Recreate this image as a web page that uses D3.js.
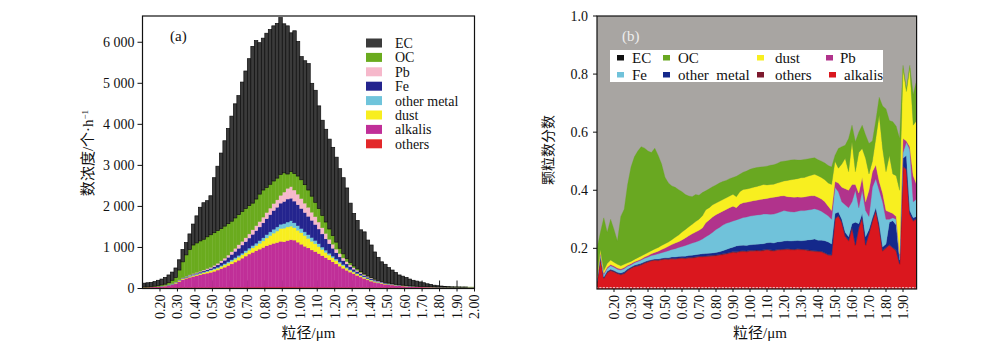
<!DOCTYPE html>
<html><head><meta charset="utf-8">
<script src="https://cdn.jsdelivr.net/npm/d3@7"></script>
<style>body{margin:0;background:#fff}svg{display:block}</style>
</head><body>
<svg id="c" width="993" height="355"></svg>
<script>
// ---------------- DATA ----------------
// Panel (a): bin centres (µm) and particle counts per hour
const sizeA = [0.11,0.13,0.15,0.17,0.19,0.21,0.23,0.25,0.27,0.29,
 0.31,0.33,0.35,0.37,0.39,0.41,0.43,0.45,0.47,0.49,
 0.51,0.53,0.55,0.57,0.59,0.61,0.63,0.65,0.67,0.69,
 0.71,0.73,0.75,0.77,0.79,0.81,0.83,0.85,0.87,0.89,
 0.91,0.93,0.95,0.97,0.99,1.01,1.03,1.05,1.07,1.09,
 1.11,1.13,1.15,1.17,1.19,1.21,1.23,1.25,1.27,1.29,
 1.31,1.33,1.35,1.37,1.39,1.41,1.43,1.45,1.47,1.49,
 1.51,1.53,1.55,1.57,1.59,1.61,1.63,1.65,1.67,1.69,
 1.71,1.73,1.75,1.77,1.79,1.81,1.83,1.85,1.87,1.89,1.91,1.93,1.95,1.97,1.99];
const othersA = [20,20,22,22,24,24,25,25,26,26,
 27,27,28,28,28,29,29,29,30,30,
 30,30,31,31,31,32,32,32,32,33,
 33,33,34,34,34,35,35,35,35,35,
 35,35,35,35,34,34,34,33,33,33,
 32,32,32,31,31,31,30,30,30,30,
 29,29,28,28,28,27,27,27,26,26,
 26,25,25,25,25,24,24,24,24,24,
 24,23,23,23,23,22,22,22,22,22,22,22,22,22,22];
const alkalisA = [10,12,14,18,22,28,35,47,69,99,
 143,188,222,247,267,286,306,326,345,365,
 390,420,454,489,529,568,613,658,708,757,
 807,847,886,926,966,1005,1035,1065,1085,1115,
 1105,1135,1155,1145,1096,1046,996,957,907,867,
 818,768,718,669,619,569,515,465,415,370,
 331,291,252,217,182,153,128,108,92,79,
 69,60,50,41,35,31,26,22,19,16,
 14,13,11,10,9,9,8,8,7,7,6,6,6,6,6];
const dustA = [0,0,0,2,3,4,5,6,8,10,
 15,17,18,20,23,25,27,30,35,40,
 45,45,50,55,60,65,70,75,80,85,
 95,110,125,140,160,190,220,250,280,310,
 330,330,330,300,290,280,260,230,210,190,
 170,150,130,115,100,85,70,60,50,45,
 40,35,30,27,25,22,19,17,15,13,
 10,9,8,7,6,5,5,4,4,4,
 4,3,3,3,2,2,2,2,2,2,2,2,2,2,2];
const otherMetalA = [0,0,0,0,0,2,3,4,5,6,
 7,8,9,10,12,13,15,17,18,20,
 23,25,27,30,32,35,37,40,42,45,
 50,55,60,65,75,80,90,95,100,105,
 110,120,130,120,110,100,90,90,90,80,
 70,60,55,45,40,35,33,28,25,20,
 18,17,16,14,13,11,10,9,8,7,
 5,4,4,3,3,3,2,2,2,2,
 1,1,1,1,1,1,1,1,1,1,1,1,1,1,1];
const feA = [0,0,0,0,2,3,5,6,8,10,
 11,12,13,15,18,20,23,26,30,35,
 42,55,68,85,108,130,153,175,198,220,
 245,275,305,335,365,390,420,455,480,515,
 540,560,550,530,510,490,470,450,420,390,
 360,320,275,230,190,150,122,97,80,65,
 52,43,37,32,28,25,21,17,15,13,
 10,9,8,7,6,5,5,4,3,2,
 2,2,2,1,1,1,1,1,1,1,1,1,1,1,1];
const pbA = [0,0,0,0,0,2,3,4,5,6,
 7,8,10,12,14,17,20,22,26,28,
 35,40,45,50,55,65,75,85,90,95,
 100,110,120,130,140,150,160,170,180,190,
 230,260,280,270,260,240,230,220,200,190,
 170,150,130,110,100,90,80,65,55,45,
 35,30,27,22,19,17,15,12,10,8,
 6,5,4,4,3,2,2,2,2,2,
 2,2,2,2,2,2,2,1,1,1,1,1,1,1,1];
const ocA = [10,10,12,15,20,25,30,50,79,113,
 240,390,520,618,698,720,740,750,776,792,
 795,795,785,780,765,745,740,735,730,715,
 690,650,650,670,660,610,580,550,530,510,
 470,350,370,400,440,460,450,420,390,350,
 330,300,280,250,210,170,130,100,75,60,
 45,35,20,15,10,10,8,6,4,4,
 6,4,4,4,4,4,3,3,2,2,
 2,2,2,2,2,2,2,2,2,2,2,2,2,2,2];
const ecA = [90,98,102,113,129,142,164,188,200,230,
 250,300,300,380,510,660,820,890,880,950,
 1340,1570,1840,2080,2320,2560,2780,2900,3150,3350,
 3580,3820,3860,3690,3700,3760,3770,3780,3770,3820,
 3630,3610,3380,3480,3280,3000,3020,3080,2750,2730,
 2500,2320,2260,2190,2150,2070,1940,1855,1720,1445,
 1280,1180,1020,1025,875,795,662,564,480,440,
 378,334,287,239,218,196,163,139,124,108,
 91,69,56,38,28,21,12,8,4,2,3,1,1,0,0];
const yTicksA = [0,1000,2000,3000,4000,5000,6000];
const yLabelsA = ["0","1 000","2 000","3 000","4 000","5 000","6 000"];
const xTicksA = [0.20,0.30,0.40,0.50,0.60,0.70,0.80,0.90,1.00,1.10,1.20,1.30,1.40,1.50,1.60,1.70,1.80,1.90,2.00];
const legendA = ["EC","OC","Pb","Fe","other metal","dust","alkalis","others"];

// Panel (b): particle number fractions
const sizeB = [0.10,0.12,0.14,0.16,0.18,0.20,0.22,0.24,0.26,0.28,
 0.30,0.32,0.34,0.36,0.38,0.40,0.42,0.44,0.46,0.48,
 0.50,0.52,0.54,0.56,0.58,0.60,0.62,0.64,0.66,0.68,
 0.70,0.72,0.74,0.76,0.78,0.80,0.82,0.84,0.86,0.88,
 0.90,0.92,0.94,0.96,0.98,1.00,1.02,1.04,1.06,1.08,
 1.10,1.12,1.14,1.16,1.18,1.20,1.22,1.24,1.26,1.28,
 1.30,1.32,1.34,1.36,1.38,1.40,1.42,1.44,1.46,1.48,
 1.50,1.52,1.54,1.56,1.58,1.60,1.62,1.64,1.66,1.68,
 1.70,1.72,1.74,1.76,1.78,1.80,1.82,1.84,1.86,1.88,
 1.90,1.92,1.94,1.96,1.98];
const alkalisB = [.080,.165,.095,.115,.122,.118,.112,.108,.112,.122,
 .130,.136,.138,.142,.148,.152,.156,.158,.157,.160,
 .162,.161,.163,.162,.164,.165,.164,.166,.166,.168,
 .170,.170,.171,.172,.173,.174,.176,.178,.180,.183,
 .186,.185,.188,.189,.188,.190,.190,.191,.190,.192,
 .194,.192,.190,.193,.194,.195,.196,.195,.194,.196,
 .195,.194,.192,.190,.189,.188,.187,.182,.176,.175,
 .300,.310,.288,.240,.225,.270,.210,.270,.305,.210,
 .250,.293,.328,.270,.190,.200,.210,.200,.190,.145,
 .480,.470,.316,.293,.300];
const othersB = [.003,.003,.003,.003,.003,.003,.003,.003,.003,.003,
 .003,.003,.003,.003,.003,.003,.003,.003,.003,.003,
 .003,.003,.003,.003,.003,.003,.003,.003,.003,.003,
 .003,.003,.003,.003,.003,.003,.003,.003,.003,.003,
 .003,.003,.003,.003,.003,.003,.003,.003,.003,.003,
 .003,.003,.003,.003,.003,.003,.003,.003,.003,.003,
 .003,.003,.003,.003,.003,.003,.003,.003,.003,.003,
 .003,.003,.003,.003,.003,.003,.003,.003,.003,.003,
 .003,.003,.003,.003,.003,.003,.003,.003,.003,.003,
 .003,.003,.003,.003,.003];
const otherMetalB = [.003,.004,.003,.003,.003,.003,.003,.004,.004,.004,
 .003,.003,.004,.004,.003,.003,.002,.002,.003,.003,
 .003,.004,.004,.005,.005,.005,.006,.006,.007,.007,
 .007,.008,.008,.008,.008,.009,.009,.011,.013,.014,
 .015,.020,.019,.019,.019,.019,.020,.020,.022,.021,
 .022,.025,.025,.026,.026,.027,.027,.027,.029,.028,
 .028,.030,.034,.037,.040,.037,.038,.041,.043,.037,
 .017,.012,.009,.012,.012,.012,.077,.012,.012,.027,
 .012,.009,.009,.012,.012,.012,.077,.092,.087,.012,
 .027,.047,.011,.009,.007];
const feB = [.008,.010,.009,.010,.012,.011,.010,.010,.011,.009,
 .007,.008,.010,.011,.012,.012,.014,.015,.018,.019,
 .020,.024,.026,.029,.031,.033,.037,.039,.042,.044,
 .046,.051,.058,.064,.071,.079,.084,.088,.090,.090,
 .090,.090,.092,.095,.098,.099,.100,.101,.101,.102,
 .099,.097,.100,.100,.103,.105,.102,.101,.099,.101,
 .104,.103,.103,.104,.104,.105,.100,.094,.090,.085,
 .090,.070,.060,.095,.100,.075,.110,.055,.080,.090,
 .045,.105,.100,.115,.155,.085,.010,.010,.020,.010,
 .020,.045,.210,.055,.060];
const pbB = [.003,.004,.004,.004,.004,.004,.004,.004,.004,.004,
 .004,.004,.003,.003,.004,.005,.006,.008,.009,.011,
 .013,.015,.017,.019,.020,.023,.026,.029,.032,.034,
 .036,.038,.048,.051,.053,.051,.050,.048,.048,.050,
 .051,.042,.050,.051,.051,.050,.051,.051,.052,.052,
 .054,.057,.058,.056,.054,.051,.050,.051,.051,.049,
 .046,.047,.047,.047,.045,.043,.042,.040,.033,.030,
 .020,.030,.050,.055,.060,.060,.020,.050,.044,.030,
 .090,.054,.047,.030,.030,.030,.025,.015,.010,.010,
 .048,.005,.010,.090,.050];
const dustB = [.008,.010,.010,.013,.016,.013,.013,.011,.011,.008,
 .008,.008,.010,.011,.010,.011,.011,.012,.013,.014,
 .015,.015,.017,.020,.023,.027,.029,.031,.033,.036,
 .038,.042,.045,.042,.042,.040,.040,.040,.040,.040,
 .041,.038,.043,.046,.045,.046,.046,.047,.048,.050,
 .046,.046,.045,.047,.048,.051,.056,.059,.062,.063,
 .067,.067,.069,.071,.074,.074,.074,.076,.080,.090,
 .070,.051,.080,.105,.064,.147,.044,.140,.100,.150,
 .056,.036,.091,.228,.154,.134,.195,.136,.140,.220,
 .240,.170,.270,.174,.220];
const ocB = [.095,.059,.181,.107,.140,.113,.080,.170,.190,.270,
 .325,.353,.367,.376,.365,.349,.338,.347,.317,.280,
 .229,.203,.185,.172,.156,.139,.120,.106,.095,.093,
 .083,.080,.065,.065,.062,.062,.063,.062,.060,.060,
 .058,.070,.060,.059,.062,.065,.066,.065,.064,.061,
 .065,.066,.067,.067,.070,.068,.068,.068,.067,.064,
 .061,.062,.060,.058,.057,.055,.056,.058,.060,.060,
 .020,.068,.060,.045,.114,.057,.103,.070,.080,.080,
 .105,.070,.062,.062,.146,.216,.120,.180,.170,.178,
 .012,.010,.010,.106,.140];
const yTicksB = [0.2,0.4,0.6,0.8,1.0];
const xTicksB = [0.20,0.30,0.40,0.50,0.60,0.70,0.80,0.90,1.00,1.10,1.20,1.30,1.40,1.50,1.60,1.70,1.80,1.90];
const legendB = [["EC","OC","dust","Pb"],["Fe","other metal","others","alkalis"]];

// ---------------- DRAW ----------------
const svg = d3.select('#c');
svg.append('rect').attr('width',993).attr('height',355).attr('fill','#fff');
const serif = "'Liberation Serif','Times New Roman',serif";
const mixed = "'Liberation Serif','Noto Sans CJK SC',serif";

// ===== Panel (a) =====
const A = {l:142.5, r:474.5, t:16, b:288.5};
const xA = d3.scaleLinear().domain([0.10, 2.00]).range([A.l, A.r]);
const yA = d3.scaleLinear().domain([0, 6640]).range([A.b, A.t]);
const keysA = ['others','alkalis','dust','otherMetal','Fe','Pb','OC','EC'];
const valsA = {others:othersA, alkalis:alkalisA, dust:dustA, otherMetal:otherMetalA, Fe:feA, Pb:pbA, OC:ocA, EC:ecA};
const colA = {EC:'#3b3b3b', OC:'#6aab1e', Pb:'#f6b8cb', Fe:'#24248e', otherMetal:'#6fc4db', dust:'#f8ee1f', alkalis:'#c02f98', others:'#e3282a'};
const tableA = sizeA.map((s,i)=>{const o={size:s}; keysA.forEach(k=>o[k]=valsA[k][i]); return o;});
const stackA = d3.stack().keys(keysA)(tableA);
const gA = svg.append('g');
// inward x ticks (behind bars)
gA.selectAll('line.xin').data(xTicksA).join('line')
  .attr('x1',d=>xA(d)).attr('x2',d=>xA(d)).attr('y1',A.b).attr('y2',A.b-8)
  .attr('stroke','#222').attr('stroke-width',1);
stackA.forEach(layer=>{
  const isEC = layer.key==='EC';
  gA.append('g').selectAll('rect').data(layer).join('rect')
    .attr('x',d=>xA(d.data.size-0.01))
    .attr('width',d=>xA(d.data.size+0.01)-xA(d.data.size-0.01))
    .attr('y',d=>yA(d[1]))
    .attr('height',d=>Math.max(0,yA(d[0])-yA(d[1])))
    .attr('fill',colA[layer.key])
    .attr('stroke',isEC?'#0d0d0d':colA[layer.key])
    .attr('stroke-width',isEC?0.7:0.4);
});
// frame
gA.append('rect').attr('x',A.l).attr('y',A.t).attr('width',A.r-A.l).attr('height',A.b-A.t)
  .attr('fill','none').attr('stroke','#111').attr('stroke-width',1.2);
// y ticks
gA.selectAll('line.yt').data(yTicksA).join('line')
  .attr('x1',A.l-5).attr('x2',A.l).attr('y1',d=>yA(d)).attr('y2',d=>yA(d))
  .attr('stroke','#111');
gA.selectAll('text.yl').data(yTicksA).join('text')
  .attr('x',A.l-8).attr('y',d=>yA(d)).attr('dy','0.35em').attr('text-anchor','end')
  .attr('font-family',serif).attr('font-size',14).attr('fill','#111')
  .text((d,i)=>yLabelsA[i]);
// x ticks outward + labels
gA.selectAll('line.xo').data(xTicksA).join('line')
  .attr('x1',d=>xA(d)).attr('x2',d=>xA(d)).attr('y1',A.b).attr('y2',A.b+3)
  .attr('stroke','#111');
gA.selectAll('text.xl').data(xTicksA).join('text')
  .attr('transform',d=>`translate(${xA(d)},${A.b+6}) rotate(-90)`)
  .attr('dy','0.35em').attr('text-anchor','end')
  .attr('font-family',serif).attr('font-size',14).attr('fill','#111')
  .text(d=>d3.format('.2f')(d));
// titles
gA.append('text').attr('x',(A.l+A.r)/2).attr('y',338).attr('text-anchor','middle')
  .attr('font-family',mixed).attr('font-size',15).attr('fill','#111').text('粒径/μm');
const ytA = gA.append('text').attr('transform','translate(93,153) rotate(-90)').attr('text-anchor','middle')
  .attr('font-family',mixed).attr('font-size',15).attr('fill','#111');
ytA.append('tspan').text('数浓度/个·h');
ytA.append('tspan').attr('baseline-shift','super').attr('font-size',9).text('−1');
gA.append('text').attr('x',170).attr('y',41).attr('font-family',serif).attr('font-size',15).attr('fill','#111').text('(a)');
// legend
const legKeyA = {"EC":"EC","OC":"OC","Pb":"Pb","Fe":"Fe","other metal":"otherMetal","dust":"dust","alkalis":"alkalis","others":"others"};
const lgA = gA.append('g');
legendA.forEach((name,i)=>{
  const cy = 43 + i*14.4;
  lgA.append('rect').attr('x',366).attr('y',cy-4.5).attr('width',16).attr('height',9).attr('fill',colA[legKeyA[name]]);
  lgA.append('text').attr('x',395).attr('y',cy).attr('dy','0.35em')
    .attr('font-family',serif).attr('font-size',14).attr('fill','#111').text(name);
});

// ===== Panel (b) =====
const B = {l:597, r:916.6, t:16, b:289};
const xB = d3.scaleLinear().domain([0.10, 1.98]).range([B.l, B.r]);
const yB = d3.scaleLinear().domain([0.06, 1.0]).range([B.b, B.t]);
const keysB = ['alkalis','others','otherMetal','Fe','Pb','dust','OC'];
const valsB = {alkalis:alkalisB, others:othersB, otherMetal:otherMetalB, Fe:feB, Pb:pbB, dust:dustB, OC:ocB};
const colB = {EC:'#111111', OC:'#69a821', dust:'#f8ef20', Pb:'#b1338c', Fe:'#70c2da', otherMetal:'#14298b', others:'#7d1a2e', alkalis:'#da171e'};
const tableB = sizeB.map((s,i)=>{const o={size:s}; keysB.forEach(k=>o[k]=valsB[k][i]); return o;});
const stackB = d3.stack().keys(keysB)(tableB);
const gB = svg.append('g');
svg.append('defs').append('clipPath').attr('id','clipB').append('rect')
  .attr('x',B.l).attr('y',B.t).attr('width',B.r-B.l).attr('height',B.b-B.t);
gB.append('rect').attr('x',B.l).attr('y',B.t).attr('width',B.r-B.l).attr('height',B.b-B.t).attr('fill','#a8a5a2');
const area = d3.area().x(d=>xB(d.data.size)).y0(d=>yB(d[0])).y1(d=>yB(d[1]));
const gArea = gB.append('g').attr('clip-path','url(#clipB)');
stackB.forEach(layer=>{
  gArea.append('path').attr('d',area(layer)).attr('fill',colB[layer.key])
    .attr('stroke',colB[layer.key]).attr('stroke-width',0.3);
});
// faint minor marks along the bottom edge
gArea.selectAll('line.mb').data(sizeB).join('line')
  .attr('x1',d=>xB(d)-1.1).attr('x2',d=>xB(d)+1.1).attr('y1',B.b-1.2).attr('y2',B.b-1.2)
  .attr('stroke','#f2f2f2').attr('stroke-width',1);
gB.append('rect').attr('x',B.l).attr('y',B.t).attr('width',B.r-B.l).attr('height',B.b-B.t)
  .attr('fill','none').attr('stroke','#111').attr('stroke-width',1.2);
gB.selectAll('line.yt').data(yTicksB).join('line')
  .attr('x1',B.l-4).attr('x2',B.l).attr('y1',d=>yB(d)).attr('y2',d=>yB(d)).attr('stroke','#111');
gB.selectAll('text.yl').data(yTicksB).join('text')
  .attr('x',B.l-9).attr('y',d=>yB(d)).attr('dy','0.35em').attr('text-anchor','end')
  .attr('font-family',serif).attr('font-size',14).attr('fill','#111')
  .text(d=>d3.format('.1f')(d));
gB.selectAll('line.xo').data(xTicksB).join('line')
  .attr('x1',d=>xB(d)).attr('x2',d=>xB(d)).attr('y1',B.b).attr('y2',B.b+3).attr('stroke','#111');
gB.selectAll('text.xl').data(xTicksB).join('text')
  .attr('transform',d=>`translate(${xB(d)},${B.b+6}) rotate(-90)`)
  .attr('dy','0.35em').attr('text-anchor','end')
  .attr('font-family',serif).attr('font-size',14).attr('fill','#111')
  .text(d=>d3.format('.2f')(d));
gB.append('text').attr('x',760).attr('y',338).attr('text-anchor','middle')
  .attr('font-family',mixed).attr('font-size',15).attr('fill','#111').text('粒径/μm');
gB.append('text').attr('transform','translate(553,150) rotate(-90)').attr('text-anchor','middle')
  .attr('font-family',mixed).attr('font-size',14).attr('fill','#111').text('颗粒数分数');
gB.append('text').attr('x',622).attr('y',41).attr('font-family',serif).attr('font-size',15).attr('fill','#eeeeee').text('(b)');
// legend
const legKeyB = {"EC":"EC","OC":"OC","dust":"dust","Pb":"Pb","Fe":"Fe","other metal":"otherMetal","others":"others","alkalis":"alkalis"};
const lgB = gB.append('g');
lgB.append('rect').attr('x',610).attr('y',50).attr('width',273).attr('height',32).attr('fill','#fff');
const swX = [[617,663,757,826],[617,663,757,829]];
const txX = [[632,678,775,840],[632,678,775,844]];
const rowY = [58,75];
legendB.forEach((row,r)=>row.forEach((name,c)=>{
  lgB.append('rect').attr('x',swX[r][c]).attr('y',rowY[r]-3).attr('width',7).attr('height',5.5).attr('fill',colB[legKeyB[name]]);
  lgB.append('text').attr('x',txX[r][c]).attr('y',rowY[r]).attr('dy','0.35em')
    .attr('font-family',serif).attr('font-size',15).attr('fill','#111').attr('xml:space','preserve')
    .text(name==='other metal'?'other  metal':name);
}));
</script>
</body></html>
